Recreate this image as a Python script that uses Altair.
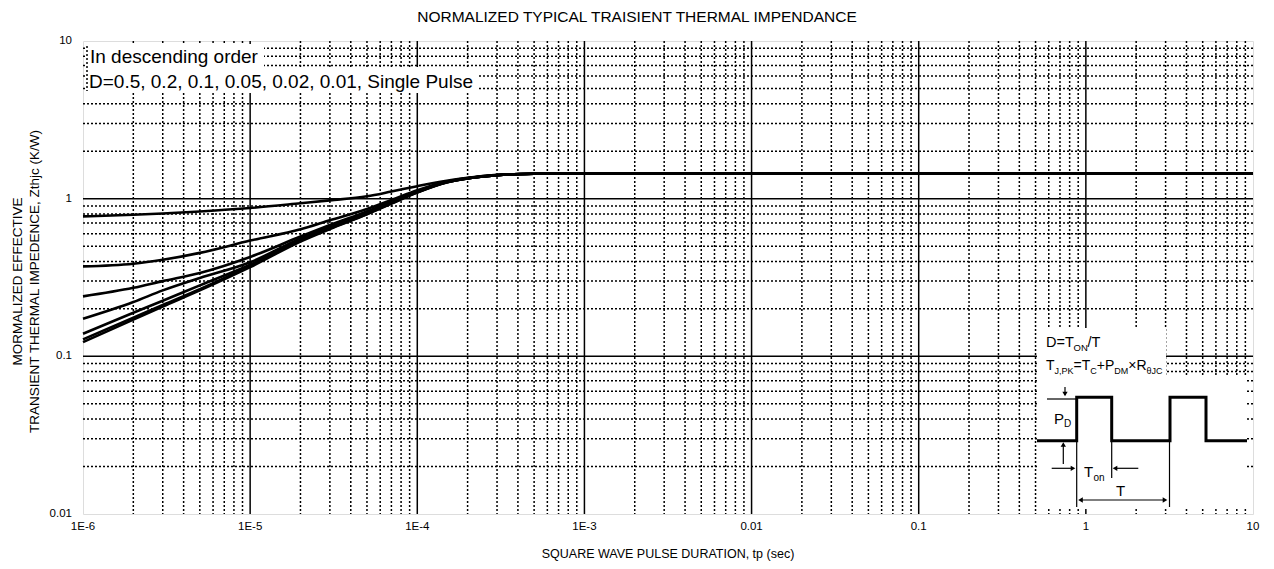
import altair as alt
import pandas as pd

# ---------------- data ----------------
TITLE = "NORMALIZED TYPICAL TRAISIENT THERMAL IMPENDANCE"
X_TITLE = "SQUARE WAVE PULSE DURATION,  tp (sec)"
Y_TITLE_1 = "MORMALIZED EFFECTIVE"
Y_TITLE_2 = "TRANSIENT THERMAL IMPEDENCE,   Zthjc (K/W)"
NOTE_1 = "In descending order"
NOTE_2 = "D=0.5, 0.2, 0.1, 0.05, 0.02, 0.01, Single Pulse"

x_tick_values = [1e-6, 1e-5, 1e-4, 1e-3, 1e-2, 1e-1, 1, 10]
x_tick_labels = ["1E-6", "1E-5", "1E-4", "1E-3", "0.01", "0.1", "1", "10"]
y_tick_values = [0.01, 0.1, 1, 10]
y_tick_labels = ["0.01", "0.1", "1", "10"]

tp = [1e-6, 2e-6, 3e-6, 5e-6, 1e-5, 2e-5, 3e-5, 5e-5, 7e-5, 1e-4,
      1.5e-4, 2e-4, 3e-4, 5e-4, 1e-3, 1e-2, 1e-1, 1, 10]

z_d050 = [0.772, 0.790, 0.805, 0.830, 0.873, 0.935, 0.975, 1.035, 1.110, 1.200,
          1.300, 1.355, 1.415, 1.440, 1.450, 1.450, 1.450, 1.450, 1.450]
z_d020 = [0.372, 0.387, 0.410, 0.453, 0.542, 0.640, 0.730, 0.860, 0.980, 1.130,
          1.285, 1.350, 1.410, 1.440, 1.450, 1.450, 1.450, 1.450, 1.450]
z_d010 = [0.240, 0.272, 0.300, 0.338, 0.427, 0.575, 0.680, 0.830, 0.955, 1.115,
          1.280, 1.348, 1.410, 1.440, 1.450, 1.450, 1.450, 1.450, 1.450]
z_d005 = [0.173, 0.221, 0.262, 0.314, 0.395, 0.560, 0.665, 0.815, 0.945, 1.105,
          1.275, 1.346, 1.408, 1.440, 1.450, 1.450, 1.450, 1.450, 1.450]
z_d002 = [0.139, 0.189, 0.225, 0.282, 0.381, 0.548, 0.655, 0.805, 0.940, 1.100,
          1.272, 1.345, 1.408, 1.440, 1.450, 1.450, 1.450, 1.450, 1.450]
z_d001 = [0.128, 0.176, 0.212, 0.267, 0.375, 0.540, 0.648, 0.800, 0.935, 1.097,
          1.270, 1.344, 1.407, 1.440, 1.450, 1.450, 1.450, 1.450, 1.450]
z_single = [0.123, 0.171, 0.207, 0.262, 0.368, 0.535, 0.642, 0.795, 0.930, 1.095,
            1.268, 1.343, 1.407, 1.440, 1.450, 1.450, 1.450, 1.450, 1.450]

series_names = ["D=0.5", "D=0.2", "D=0.1", "D=0.05", "D=0.02", "D=0.01", "Single Pulse"]
series_values = [z_d050, z_d020, z_d010, z_d005, z_d002, z_d001, z_single]

# ---------------- layout / style ----------------
W, H = 1170, 473
FONT = "Liberation Sans"

rows = []
for name, vals in zip(series_names, series_values):
    for t, z in zip(tp, vals):
        rows.append({"tp": t, "z": z, "D": name})
curves_df = pd.DataFrame(rows)

xs = alt.Scale(type="log", domain=[1e-6, 10], nice=False)
ys = alt.Scale(type="log", domain=[0.01, 10], nice=False)

# grid lines
gx_minor = [k * 10.0 ** e for e in range(-6, 1) for k in range(2, 10)]
gx_major = [10.0 ** e for e in range(-5, 1)]
gy_minor = [k * 10.0 ** e for e in range(-2, 1) for k in range(2, 10)]
gy_major = [0.1, 1.0]

dot = dict(color="black", strokeWidth=1.5, strokeDash=[2, 2])
solid = dict(color="black", strokeWidth=1.5)

vmin = alt.Chart(pd.DataFrame({"v": gx_minor})).mark_rule(**dot).encode(
    x=alt.X("v:Q", scale=xs, axis=None))
vmaj = alt.Chart(pd.DataFrame({"v": gx_major})).mark_rule(**solid).encode(
    x=alt.X("v:Q", scale=xs, axis=None))
hmin = alt.Chart(pd.DataFrame({"v": gy_minor})).mark_rule(**dot).encode(
    y=alt.Y("v:Q", scale=ys, axis=None))
hmaj = alt.Chart(pd.DataFrame({"v": gy_major})).mark_rule(**solid).encode(
    y=alt.Y("v:Q", scale=ys, axis=None))

curves = alt.Chart(curves_df).mark_line(color="black", strokeWidth=2.6, interpolate="monotone").encode(
    x=alt.X("tp:Q", scale=xs, axis=None),
    y=alt.Y("z:Q", scale=ys, axis=None),
    detail="D:N",
    order="tp:Q",
)

# tick labels placed through the same log scales
xlab = alt.Chart(pd.DataFrame({"v": x_tick_values, "t": x_tick_labels})).mark_text(
    font=FONT, fontSize=11.5, color="black", baseline="middle", align="center").encode(
    x=alt.X("v:Q", scale=xs, axis=None), y=alt.value(H + 13), text="t:N")
ylab = alt.Chart(pd.DataFrame({"v": y_tick_values, "t": y_tick_labels})).mark_text(
    font=FONT, fontSize=11.5, color="black", baseline="middle", align="right").encode(
    y=alt.Y("v:Q", scale=ys, axis=None), x=alt.value(-11), text="t:N")

# ---------------- annotations (pixel positions inside the plot area) ----------------
PX = dict(scale=None, axis=None)

boxes = pd.DataFrame([
    {"x": 2, "x2": 181, "y": 3, "y2": 26},       # note line 1
    {"x": 2, "x2": 395, "y": 26, "y2": 52},      # note line 2
    {"x": 954, "x2": 1083, "y": 287, "y2": 336},  # inset formula block
    {"x": 954, "x2": 1164, "y": 334, "y2": 468},  # inset waveform block
])
white = alt.Chart(boxes).mark_rect(fill="white", stroke=None).encode(
    x=alt.X("x:Q", **PX), x2="x2:Q", y=alt.Y("y:Q", **PX), y2="y2:Q")

note_border = alt.Chart(pd.DataFrame([{"x": 4, "y": 5, "y2": 50}])).mark_rule(**dot).encode(
    x=alt.X("x:Q", **PX), y=alt.Y("y:Q", **PX), y2="y2:Q")

texts_left = pd.DataFrame([
    {"x": 7, "y": 22, "t": NOTE_1, "s": 19},
    {"x": 6, "y": 47, "t": NOTE_2, "s": 19},
    # inset formulas
    {"x": 963, "y": 306, "t": "D=T", "s": 14.5},
    {"x": 990.5, "y": 310, "t": "ON", "s": 9.5},
    {"x": 1004.5, "y": 306, "t": "/T", "s": 14.5},
    {"x": 963, "y": 329, "t": "T", "s": 14},
    {"x": 971.6, "y": 333, "t": "J,PK", "s": 9},
    {"x": 990.6, "y": 329, "t": "=T", "s": 14},
    {"x": 1007.3, "y": 333, "t": "C", "s": 9},
    {"x": 1013.8, "y": 329, "t": "+P", "s": 14},
    {"x": 1031.3, "y": 333, "t": "DM", "s": 9},
    {"x": 1045.3, "y": 329, "t": "\u00d7R", "s": 14},
    {"x": 1063.6, "y": 333, "t": "\u03b8JC", "s": 9},
    # waveform labels
    {"x": 971, "y": 383, "t": "P", "s": 15},
    {"x": 981, "y": 386, "t": "D", "s": 10},
    {"x": 1001, "y": 436, "t": "T", "s": 15},
    {"x": 1010.5, "y": 439.5, "t": "on", "s": 10},
    {"x": 1033, "y": 455, "t": "T", "s": 15},
])
tleft = alt.Chart(texts_left).mark_text(align="left", baseline="alphabetic", font=FONT, color="black").encode(
    x=alt.X("x:Q", **PX), y=alt.Y("y:Q", **PX), text="t:N",
    size=alt.Size("s:Q", scale=None, legend=None))

texts_center = pd.DataFrame([
    {"x": 554, "y": -19, "t": TITLE, "s": 15.5},
    {"x": 585, "y": 517, "t": X_TITLE, "s": 12.5},
])
tcenter = alt.Chart(texts_center).mark_text(align="center", baseline="alphabetic", font=FONT, color="black").encode(
    x=alt.X("x:Q", **PX), y=alt.Y("y:Q", **PX), text="t:N",
    size=alt.Size("s:Q", scale=None, legend=None))

texts_rot = pd.DataFrame([
    {"x": -65, "y": H / 2 + 4, "t": Y_TITLE_1, "s": 13.5},
    {"x": -48, "y": H / 2 + 4, "t": Y_TITLE_2, "s": 13.5},
])
trot = alt.Chart(texts_rot).mark_text(align="center", baseline="middle", angle=270, font=FONT, color="black").encode(
    x=alt.X("x:Q", **PX), y=alt.Y("y:Q", **PX), text="t:N",
    size=alt.Size("s:Q", scale=None, legend=None))

# waveform (pulse train)
wave = pd.DataFrame({
    "x": [954, 993.7, 993.7, 1028.7, 1028.7, 1087, 1087, 1123, 1123, 1164],
    "y": [399.7, 399.7, 356.3, 356.3, 399.7, 399.7, 356.3, 356.3, 399.7, 399.7],
    "i": list(range(10)),
})
wave_line = alt.Chart(wave).mark_line(color="black", strokeWidth=3, strokeJoin="miter").encode(
    x=alt.X("x:Q", **PX), y=alt.Y("y:Q", **PX), order="i:Q")

thin = pd.DataFrame([
    {"x": 964, "y": 358, "x2": 993.7, "y2": 358},
    {"x": 982, "y": 346, "x2": 982, "y2": 354},
    {"x": 980.3, "y": 423, "x2": 980.3, "y2": 404},
    {"x": 968.7, "y": 427.3, "x2": 990, "y2": 427.3},
    {"x": 1055.3, "y": 427.3, "x2": 1032, "y2": 427.3},
    {"x": 993.7, "y": 399.7, "x2": 993.7, "y2": 466},
    {"x": 1028.7, "y": 399.7, "x2": 1028.7, "y2": 437},
    {"x": 1086.5, "y": 399.7, "x2": 1086.5, "y2": 466},
    {"x": 997, "y": 459, "x2": 1082, "y2": 459},
])
thin_rules = alt.Chart(thin).mark_rule(color="black", strokeWidth=1.2).encode(
    x=alt.X("x:Q", **PX), y=alt.Y("y:Q", **PX), x2="x2:Q", y2="y2:Q")

heads = pd.DataFrame([
    {"x": 982, "y": 353, "shape": "triangle-down"},
    {"x": 980.3, "y": 403.5, "shape": "triangle-up"},
    {"x": 990, "y": 427.3, "shape": "triangle-right"},
    {"x": 1032, "y": 427.3, "shape": "triangle-left"},
    {"x": 997.5, "y": 459, "shape": "triangle-left"},
    {"x": 1082, "y": 459, "shape": "triangle-right"},
])
arrow_heads = alt.Chart(heads).mark_point(filled=True, color="black", size=28, opacity=1).encode(
    x=alt.X("x:Q", **PX), y=alt.Y("y:Q", **PX),
    shape=alt.Shape("shape:N", scale=None, legend=None))

chart = alt.layer(
    vmin, hmin, vmaj, hmaj, curves, xlab, ylab,
    white, note_border, tleft, tcenter, trot,
    wave_line, thin_rules, arrow_heads,
).properties(
    width=W, height=H,
    autosize=alt.AutoSizeParams(type="none"),
    padding={"left": 75, "top": 33, "right": 13, "bottom": 47},
).configure_view(
    stroke="black", strokeWidth=1.6
).configure(
    background="white"
)

chart.save("out.html", embed_options={"renderer": "svg", "actions": False})
